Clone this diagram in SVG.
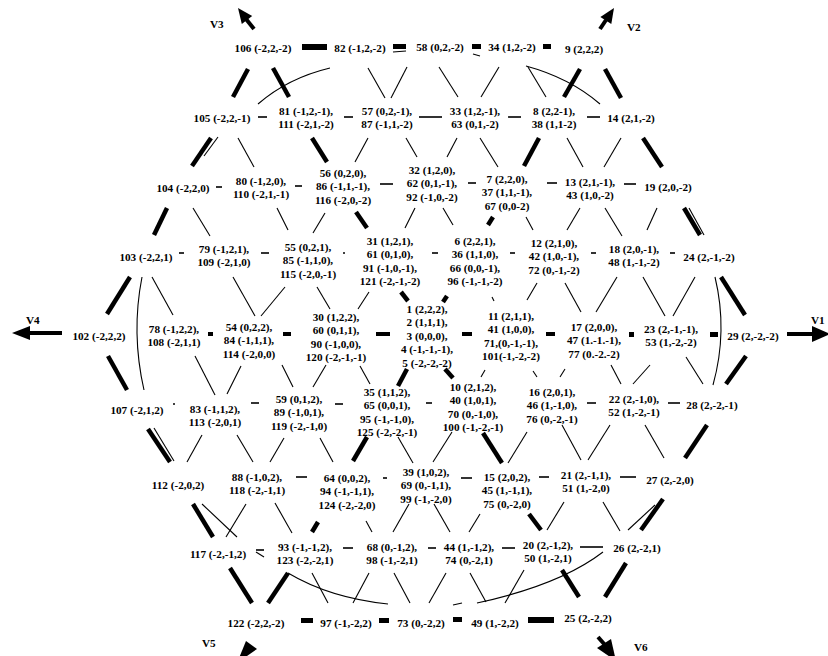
<svg xmlns="http://www.w3.org/2000/svg" width="828" height="656" viewBox="0 0 828 656">
<style>
.n{font-family:"Liberation Serif","Times New Roman",serif;font-size:11.2px;font-weight:bold;text-anchor:middle;fill:#000}
.v{font-family:"Liberation Serif","Times New Roman",serif;font-size:11.2px;font-weight:bold;fill:#000}
.t{stroke:#000;stroke-width:1.1;fill:none}
.d{stroke:#000;stroke-width:1.6;fill:none}
.k{stroke:#000;stroke-width:4.5;fill:none}
.a{stroke:#000;stroke-width:4;fill:none}
rect,polygon{fill:#000}
</style>
<rect x="0" y="0" width="828" height="656" style="fill:#fff"/>
<g id="connectors">
<rect x="302" y="44" width="25" height="6"/>
<rect x="393" y="44" width="13" height="5"/>
<rect x="472" y="44" width="9" height="5"/>
<rect x="543" y="44" width="8" height="5"/>
<line class="t" x1="393" y1="52" x2="406" y2="51"/>
<line class="t" x1="473" y1="54" x2="480" y2="56"/>
<line class="k" x1="248" y1="69" x2="233" y2="97"/>
<line class="k" x1="273" y1="68" x2="289" y2="97"/>
<path class="t" d="M258,104 Q288,78 330,68"/>
<line class="t" x1="368" y1="68" x2="385" y2="98"/>
<line class="t" x1="407" y1="67" x2="391" y2="98"/>
<line class="t" x1="439" y1="67" x2="458" y2="97"/>
<line class="t" x1="499" y1="67" x2="481" y2="97"/>
<line class="t" x1="528" y1="67" x2="546" y2="97"/>
<path class="t" d="M526,66 Q570,78 600,104"/>
<line class="k" x1="580" y1="69" x2="564" y2="97"/>
<line class="k" x1="605" y1="69" x2="621" y2="98"/>
<line class="d" x1="258" y1="117" x2="267" y2="117"/>
<line class="d" x1="344" y1="117" x2="353" y2="117"/>
<line class="d" x1="419" y1="117" x2="442" y2="117"/>
<line class="d" x1="508" y1="117" x2="521" y2="117"/>
<line class="d" x1="587" y1="117" x2="600" y2="117"/>
<line class="k" x1="211" y1="138" x2="192" y2="166"/>
<line class="t" x1="218" y1="137" x2="204" y2="156"/>
<line class="t" x1="238" y1="138" x2="254" y2="167"/>
<line class="k" x1="312" y1="138" x2="327" y2="162"/>
<line class="t" x1="368" y1="138" x2="355" y2="162"/>
<line class="t" x1="406" y1="138" x2="417" y2="157"/>
<line class="t" x1="457" y1="138" x2="447" y2="157"/>
<line class="t" x1="480" y1="138" x2="498" y2="167"/>
<line class="k" x1="539" y1="138" x2="524" y2="166"/>
<line class="t" x1="567" y1="138" x2="583" y2="167"/>
<line class="t" x1="621" y1="138" x2="604" y2="167"/>
<line class="k" x1="643" y1="138" x2="662" y2="167"/>
<line class="d" x1="216" y1="187" x2="222" y2="187"/>
<line class="d" x1="295" y1="186" x2="302" y2="186"/>
<line class="d" x1="380" y1="184" x2="393" y2="184"/>
<line class="d" x1="468" y1="183" x2="476" y2="183"/>
<line class="d" x1="547" y1="183" x2="557" y2="183"/>
<line class="d" x1="624" y1="184" x2="636" y2="184"/>
<line class="k" x1="167" y1="208" x2="154" y2="235"/>
<line class="t" x1="193" y1="208" x2="210" y2="236"/>
<line class="t" x1="277" y1="208" x2="288" y2="230"/>
<line class="t" x1="325" y1="213" x2="313" y2="233"/>
<line class="k" x1="356" y1="212" x2="367" y2="228"/>
<line class="t" x1="415" y1="208" x2="405" y2="228"/>
<line class="t" x1="443" y1="208" x2="453" y2="225"/>
<line class="k" x1="493" y1="217" x2="488" y2="225"/>
<line class="t" x1="526" y1="217" x2="533" y2="230"/>
<line class="t" x1="580" y1="208" x2="567" y2="230"/>
<line class="t" x1="605" y1="208" x2="622" y2="236"/>
<line class="t" x1="657" y1="208" x2="647" y2="230"/>
<line class="k" x1="684" y1="208" x2="700" y2="235"/>
<line class="t" x1="689" y1="208" x2="704" y2="235"/>
<line class="d" x1="179" y1="253" x2="184" y2="253"/>
<line class="d" x1="261" y1="253" x2="269" y2="253"/>
<line class="d" x1="343" y1="253" x2="345" y2="253"/>
<line class="d" x1="432" y1="253" x2="438" y2="253"/>
<line class="d" x1="510" y1="253" x2="515" y2="253"/>
<line class="d" x1="591" y1="253" x2="596" y2="253"/>
<line class="d" x1="670" y1="253" x2="675" y2="253"/>
<line class="k" x1="130" y1="277" x2="107" y2="314"/>
<path class="t" d="M142,277 Q131,333 144,390"/>
<line class="t" x1="152" y1="277" x2="173" y2="315"/>
<line class="t" x1="233" y1="277" x2="255" y2="316"/>
<line class="t" x1="285" y1="287" x2="261" y2="316"/>
<line class="t" x1="317" y1="287" x2="330" y2="309"/>
<line class="t" x1="369" y1="292" x2="358" y2="309"/>
<line class="k" x1="401" y1="292" x2="408" y2="301"/>
<line class="k" x1="447" y1="296" x2="443" y2="302"/>
<line class="t" x1="492" y1="297" x2="494" y2="301"/>
<line class="t" x1="537" y1="283" x2="527" y2="300"/>
<line class="t" x1="565" y1="283" x2="581" y2="312"/>
<line class="t" x1="617" y1="277" x2="596" y2="312"/>
<line class="t" x1="643" y1="277" x2="665" y2="316"/>
<line class="t" x1="695" y1="277" x2="673" y2="316"/>
<path class="t" d="M715,277 Q728,331 713,385"/>
<line class="k" x1="721" y1="277" x2="745" y2="315"/>
<rect x="208" y="332" width="5" height="4"/>
<rect x="283" y="332" width="8" height="4"/>
<rect x="376" y="332" width="14" height="4"/>
<rect x="462" y="332" width="10" height="4"/>
<rect x="546" y="332" width="9" height="4"/>
<rect x="629" y="332" width="5" height="5"/>
<rect x="710" y="332" width="8" height="5"/>
<line class="k" x1="108" y1="356" x2="127" y2="390"/>
<line class="t" x1="195" y1="356" x2="215" y2="395"/>
<line class="t" x1="241" y1="366" x2="227" y2="394"/>
<line class="t" x1="282" y1="365" x2="293" y2="387"/>
<line class="t" x1="326" y1="365" x2="313" y2="387"/>
<line class="t" x1="360" y1="366" x2="370" y2="384"/>
<line class="k" x1="407" y1="369" x2="398" y2="386"/>
<line class="k" x1="445" y1="369" x2="453" y2="378"/>
<line class="t" x1="485" y1="370" x2="481" y2="377"/>
<line class="t" x1="533" y1="371" x2="537" y2="377"/>
<line class="t" x1="565" y1="369" x2="560" y2="377"/>
<line class="t" x1="611" y1="365" x2="621" y2="384"/>
<line class="t" x1="650" y1="365" x2="633" y2="384"/>
<line class="t" x1="686" y1="357" x2="703" y2="384"/>
<line class="k" x1="746" y1="356" x2="726" y2="384"/>
<line class="d" x1="173" y1="404" x2="175" y2="404"/>
<line class="d" x1="251" y1="403" x2="259" y2="403"/>
<line class="d" x1="335" y1="404" x2="343" y2="404"/>
<line class="d" x1="426" y1="403" x2="432" y2="403"/>
<line class="d" x1="587" y1="403" x2="596" y2="403"/>
<line class="d" x1="668" y1="403" x2="680" y2="403"/>
<line class="k" x1="148" y1="429" x2="170" y2="462"/>
<line class="t" x1="154" y1="428" x2="174" y2="461"/>
<line class="t" x1="202" y1="435" x2="187" y2="462"/>
<line class="t" x1="237" y1="435" x2="253" y2="462"/>
<line class="t" x1="284" y1="438" x2="270" y2="462"/>
<line class="t" x1="320" y1="438" x2="333" y2="462"/>
<line class="k" x1="367" y1="437" x2="353" y2="461"/>
<line class="t" x1="398" y1="437" x2="413" y2="463"/>
<line class="t" x1="452" y1="432" x2="433" y2="462"/>
<line class="k" x1="483" y1="433" x2="502" y2="463"/>
<line class="t" x1="527" y1="432" x2="508" y2="463"/>
<line class="t" x1="562" y1="425" x2="581" y2="460"/>
<line class="t" x1="610" y1="425" x2="588" y2="460"/>
<line class="t" x1="645" y1="425" x2="664" y2="458"/>
<line class="k" x1="707" y1="425" x2="685" y2="458"/>
<line class="d" x1="296" y1="477" x2="307" y2="477"/>
<line class="d" x1="383" y1="478" x2="387" y2="478"/>
<line class="d" x1="461" y1="478" x2="472" y2="478"/>
<line class="d" x1="539" y1="477" x2="549" y2="477"/>
<line class="d" x1="620" y1="477" x2="636" y2="477"/>
<line class="k" x1="193" y1="504" x2="213" y2="537"/>
<line class="t" x1="202" y1="504" x2="237" y2="537"/>
<line class="t" x1="246" y1="504" x2="226" y2="537"/>
<line class="t" x1="275" y1="503" x2="292" y2="533"/>
<line class="k" x1="318" y1="522" x2="312" y2="532"/>
<line class="t" x1="366" y1="521" x2="372" y2="532"/>
<line class="t" x1="409" y1="504" x2="393" y2="532"/>
<line class="t" x1="434" y1="504" x2="450" y2="532"/>
<line class="t" x1="480" y1="514" x2="469" y2="532"/>
<line class="k" x1="529" y1="514" x2="541" y2="530"/>
<line class="t" x1="564" y1="502" x2="547" y2="530"/>
<line class="t" x1="603" y1="502" x2="620" y2="531"/>
<line class="k" x1="663" y1="499" x2="641" y2="530"/>
<line class="t" x1="655" y1="505" x2="628" y2="530"/>
<line class="d" x1="256" y1="550" x2="264" y2="550"/>
<line class="t" x1="256" y1="552" x2="264" y2="557"/>
<line class="d" x1="343" y1="548" x2="353" y2="548"/>
<line class="d" x1="428" y1="548" x2="436" y2="548"/>
<line class="d" x1="502" y1="548" x2="515" y2="548"/>
<line class="d" x1="580" y1="547" x2="603" y2="547"/>
<line class="k" x1="230" y1="568" x2="252" y2="603"/>
<line class="k" x1="288" y1="573" x2="268" y2="603"/>
<path class="t" d="M288,573 Q330,598 388,604"/>
<line class="t" x1="312" y1="573" x2="328" y2="603"/>
<line class="t" x1="369" y1="573" x2="353" y2="603"/>
<line class="t" x1="394" y1="573" x2="410" y2="603"/>
<line class="t" x1="446" y1="573" x2="429" y2="603"/>
<line class="t" x1="453" y1="605" x2="462" y2="603"/>
<line class="t" x1="470" y1="573" x2="486" y2="602"/>
<line class="t" x1="524" y1="570" x2="505" y2="603"/>
<path class="t" d="M603,552 Q560,585 477,603"/>
<line class="k" x1="562" y1="570" x2="579" y2="597"/>
<line class="k" x1="626" y1="563" x2="605" y2="597"/>
<rect x="301" y="618" width="12" height="5"/>
<rect x="379" y="618" width="10" height="5"/>
<rect x="453" y="617" width="9" height="5"/>
<rect x="528" y="617" width="26" height="6"/>
</g>
<g id="axes">
<line class="a" x1="29" y1="333" x2="62" y2="333"/>
<polygon points="12,333 30,326 30,340"/>
<line class="a" x1="787" y1="334" x2="814" y2="334"/>
<polygon points="812,326 830,334 812,342"/>
<line class="a" x1="246" y1="19" x2="254" y2="29"/>
<polygon points="238,8 252.2,16.1 241.8,23.9"/>
<line class="a" x1="606" y1="20" x2="600" y2="29"/>
<polygon points="614,8 611.3,24.1 600.4,17.1"/>
<polygon points="246,641 257,649 237,663"/>
<line class="a" x1="598" y1="637" x2="605" y2="645"/>
<polygon points="597,648 611,639 616,661"/>
<text class="v" x="210" y="28">V3</text>
<text class="v" x="627" y="31">V2</text>
<text class="v" x="26" y="324">V4</text>
<text class="v" x="811" y="324">V1</text>
<text class="v" x="202" y="647">V5</text>
<text class="v" x="634" y="651">V6</text>
</g>
<g id="n106"><text class="n" x="263" y="52">106 (-2,2,-2)</text></g>
<g id="n82"><text class="n" x="360" y="52">82 (-1,2,-2)</text></g>
<g id="n58"><text class="n" x="440" y="51">58 (0,2,-2)</text></g>
<g id="n34"><text class="n" x="512" y="51">34 (1,2,-2)</text></g>
<g id="n9"><text class="n" x="584" y="53">9 (2,2,2)</text></g>
<g id="n105"><text class="n" x="222" y="122">105 (-2,2,-1)</text></g>
<g id="n81"><text class="n" x="306" y="115"><tspan x="306">81 (-1,2,-1),</tspan><tspan x="306" dy="13.4">111 (-2,1,-2)</tspan></text></g>
<g id="n57"><text class="n" x="387" y="115"><tspan x="387">57 (0,2,-1),</tspan><tspan x="387" dy="13.4">87 (-1,1,-2)</tspan></text></g>
<g id="n33"><text class="n" x="475" y="115"><tspan x="475">33 (1,2,-1),</tspan><tspan x="475" dy="13.4">63 (0,1,-2)</tspan></text></g>
<g id="n8"><text class="n" x="554" y="115"><tspan x="554">8 (2,2-1),</tspan><tspan x="554" dy="13.4">38 (1,1-2)</tspan></text></g>
<g id="n14"><text class="n" x="631" y="122">14 (2,1,-2)</text></g>
<g id="n104"><text class="n" x="183" y="192">104 (-2,2,0)</text></g>
<g id="n80"><text class="n" x="261" y="185"><tspan x="261">80 (-1,2,0),</tspan><tspan x="261" dy="13.4">110 (-2,1,-1)</tspan></text></g>
<g id="n56"><text class="n" x="343" y="177"><tspan x="343">56 (0,2,0),</tspan><tspan x="343" dy="13.4">86 (-1,1,-1),</tspan><tspan x="343" dy="13.4">116 (-2,0,-2)</tspan></text></g>
<g id="n32"><text class="n" x="432" y="174"><tspan x="432">32 (1,2,0),</tspan><tspan x="432" dy="13.4">62 (0,1,-1),</tspan><tspan x="432" dy="13.4">92 (-1,0,-2)</tspan></text></g>
<g id="n7"><text class="n" x="507" y="183"><tspan x="507">7 (2,2,0),</tspan><tspan x="507" dy="13.4">37 (1,1,-1),</tspan><tspan x="507" dy="13.4">67 (0,0-2)</tspan></text></g>
<g id="n13"><text class="n" x="590" y="186"><tspan x="590">13 (2,1,-1),</tspan><tspan x="590" dy="13.4">43 (1,0,-2)</tspan></text></g>
<g id="n19"><text class="n" x="668" y="191">19 (2,0,-2)</text></g>
<g id="n103"><text class="n" x="146" y="261">103 (-2,2,1)</text></g>
<g id="n79"><text class="n" x="224" y="253"><tspan x="224">79 (-1,2,1),</tspan><tspan x="224" dy="13.4">109 (-2,1,0)</tspan></text></g>
<g id="n55"><text class="n" x="308" y="251"><tspan x="308">55 (0,2,1),</tspan><tspan x="308" dy="13.4">85 (-1,1,0),</tspan><tspan x="308" dy="13.4">115 (-2,0,-1)</tspan></text></g>
<g id="n31"><text class="n" x="390" y="245"><tspan x="390">31 (1,2,1),</tspan><tspan x="390" dy="13.4">61 (0,1,0),</tspan><tspan x="390" dy="13.4">91 (-1,0,-1),</tspan><tspan x="390" dy="13.4">121 (-2,-1,-2)</tspan></text></g>
<g id="n6"><text class="n" x="475" y="245"><tspan x="475">6 (2,2,1),</tspan><tspan x="475" dy="13.4">36 (1,1,0),</tspan><tspan x="475" dy="13.4">66 (0,0,-1),</tspan><tspan x="475" dy="13.4">96 (-1,-1,-2)</tspan></text></g>
<g id="n12"><text class="n" x="554" y="247"><tspan x="554">12 (2,1,0),</tspan><tspan x="554" dy="13.4">42 (1,0,-1),</tspan><tspan x="554" dy="13.4">72 (0,-1,-2)</tspan></text></g>
<g id="n18"><text class="n" x="634" y="253"><tspan x="634">18 (2,0,-1),</tspan><tspan x="634" dy="13.4">48 (1,-1,-2)</tspan></text></g>
<g id="n24"><text class="n" x="709" y="261">24 (2,-1,-2)</text></g>
<g id="n102"><text class="n" x="99" y="340">102 (-2,2,2)</text></g>
<g id="n78"><text class="n" x="174" y="333"><tspan x="174">78 (-1,2,2),</tspan><tspan x="174" dy="13.4">108 (-2,1,1)</tspan></text></g>
<g id="n54"><text class="n" x="249" y="331"><tspan x="249">54 (0,2,2),</tspan><tspan x="249" dy="13.4">84 (-1,1,1),</tspan><tspan x="249" dy="13.4">114 (-2,0,0)</tspan></text></g>
<g id="n30"><text class="n" x="336" y="321"><tspan x="336">30 (1,2,2),</tspan><tspan x="336" dy="13.4">60 (0,1,1),</tspan><tspan x="336" dy="13.4">90 (-1,0,0),</tspan><tspan x="336" dy="13.4">120 (-2,-1,-1)</tspan></text></g>
<g id="n1"><text class="n" x="427" y="313"><tspan x="427">1 (2,2,2),</tspan><tspan x="427" dy="13.4">2 (1,1,1),</tspan><tspan x="427" dy="13.4">3 (0,0,0),</tspan><tspan x="427" dy="13.4">4 (-1,-1,-1),</tspan><tspan x="427" dy="13.4">5 (-2,-2,-2)</tspan></text></g>
<g id="n11"><text class="n" x="511" y="320"><tspan x="511">11 (2,1,1),</tspan><tspan x="511" dy="13.4">41 (1,0,0),</tspan><tspan x="511" dy="13.4">71,(0,-1,-1),</tspan><tspan x="511" dy="13.4">101(-1,-2,-2)</tspan></text></g>
<g id="n17"><text class="n" x="594" y="331"><tspan x="594">17 (2,0,0),</tspan><tspan x="594" dy="13.4">47 (1.-1.-1),</tspan><tspan x="594" dy="13.4">77 (0.-2.-2)</tspan></text></g>
<g id="n23"><text class="n" x="671" y="333"><tspan x="671">23 (2,-1,-1),</tspan><tspan x="671" dy="13.4">53 (1,-2,-2)</tspan></text></g>
<g id="n29"><text class="n" x="753" y="340">29 (2,-2,-2)</text></g>
<g id="n107"><text class="n" x="137" y="414">107 (-2,1,2)</text></g>
<g id="n83"><text class="n" x="215" y="413"><tspan x="215">83 (-1,1,2),</tspan><tspan x="215" dy="13.4">113 (-2,0,1)</tspan></text></g>
<g id="n59"><text class="n" x="299" y="403"><tspan x="299">59 (0,1,2),</tspan><tspan x="299" dy="13.4">89 (-1,0,1),</tspan><tspan x="299" dy="13.4">119 (-2,-1,0)</tspan></text></g>
<g id="n35"><text class="n" x="387" y="396"><tspan x="387">35 (1,1,2),</tspan><tspan x="387" dy="13.4">65 (0,0,1),</tspan><tspan x="387" dy="13.4">95 (-1,-1,0),</tspan><tspan x="387" dy="13.4">125 (-2,-2,-1)</tspan></text></g>
<g id="n10"><text class="n" x="473" y="391"><tspan x="473">10 (2,1,2),</tspan><tspan x="473" dy="13.4">40 (1,0,1),</tspan><tspan x="473" dy="13.4">70 (0,-1,0),</tspan><tspan x="473" dy="13.4">100 (-1,-2,-1)</tspan></text></g>
<g id="n16"><text class="n" x="552" y="396"><tspan x="552">16 (2,0,1),</tspan><tspan x="552" dy="13.4">46 (1,-1,0),</tspan><tspan x="552" dy="13.4">76 (0,-2,-1)</tspan></text></g>
<g id="n22"><text class="n" x="634" y="403"><tspan x="634">22 (2,-1,0),</tspan><tspan x="634" dy="13.4">52 (1,-2,-1)</tspan></text></g>
<g id="n28"><text class="n" x="712" y="409">28 (2,-2,-1)</text></g>
<g id="n112"><text class="n" x="178" y="489">112 (-2,0,2)</text></g>
<g id="n88"><text class="n" x="257" y="481"><tspan x="257">88 (-1,0,2),</tspan><tspan x="257" dy="13.4">118 (-2,-1,1)</tspan></text></g>
<g id="n64"><text class="n" x="347" y="482"><tspan x="347">64 (0,0,2),</tspan><tspan x="347" dy="13.4">94 (-1,-1,1),</tspan><tspan x="347" dy="13.4">124 (-2,-2,0)</tspan></text></g>
<g id="n39"><text class="n" x="426" y="476"><tspan x="426">39 (1,0,2),</tspan><tspan x="426" dy="13.4">69 (0,-1,1),</tspan><tspan x="426" dy="13.4">99 (-1,-2,0)</tspan></text></g>
<g id="n15"><text class="n" x="507" y="481"><tspan x="507">15 (2,0,2),</tspan><tspan x="507" dy="13.4">45 (1,-1,1),</tspan><tspan x="507" dy="13.4">75 (0,-2,0)</tspan></text></g>
<g id="n21"><text class="n" x="586" y="479"><tspan x="586">21 (2,-1,1),</tspan><tspan x="586" dy="13.4">51 (1,-2,0)</tspan></text></g>
<g id="n27"><text class="n" x="670" y="484">27 (2,-2,0)</text></g>
<g id="n117"><text class="n" x="218" y="558">117 (-2,-1,2)</text></g>
<g id="n93"><text class="n" x="305" y="551"><tspan x="305">93 (-1,-1,2),</tspan><tspan x="305" dy="13.4">123 (-2,-2,1)</tspan></text></g>
<g id="n68"><text class="n" x="392" y="551"><tspan x="392">68 (0,-1,2),</tspan><tspan x="392" dy="13.4">98 (-1,-2,1)</tspan></text></g>
<g id="n44"><text class="n" x="469" y="551"><tspan x="469">44 (1,-1,2),</tspan><tspan x="469" dy="13.4">74 (0,-2,1)</tspan></text></g>
<g id="n20"><text class="n" x="548" y="549"><tspan x="548">20 (2,-1,2),</tspan><tspan x="548" dy="13.4">50 (1,-2,1)</tspan></text></g>
<g id="n26"><text class="n" x="637" y="552">26 (2,-2,1)</text></g>
<g id="n122"><text class="n" x="256" y="627">122 (-2,2,-2)</text></g>
<g id="n97"><text class="n" x="346" y="627">97 (-1,-2,2)</text></g>
<g id="n73"><text class="n" x="421" y="627">73 (0,-2,2)</text></g>
<g id="n49"><text class="n" x="495" y="627">49 (1,-2,2)</text></g>
<g id="n25"><text class="n" x="588" y="622">25 (2,-2,2)</text></g>
</svg>
